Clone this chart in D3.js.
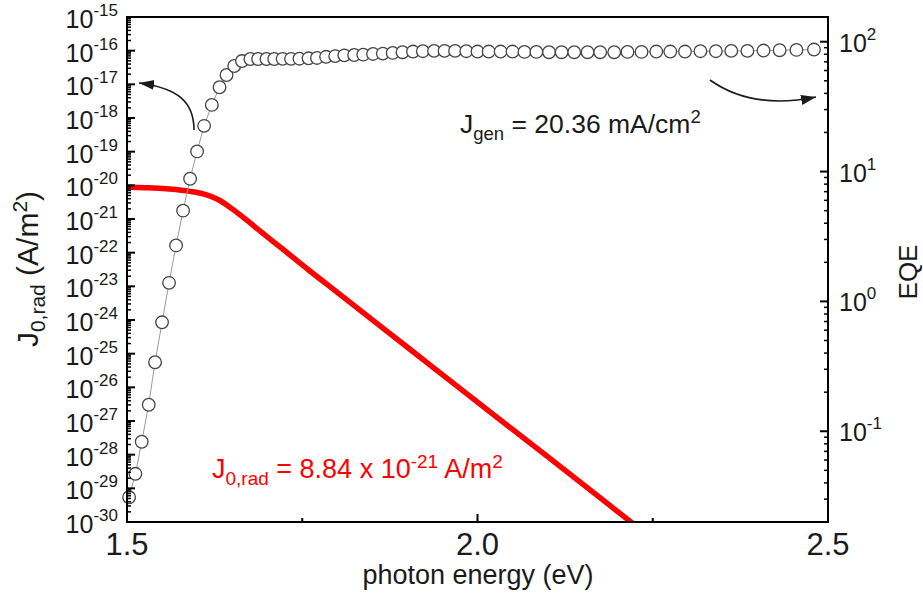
<!DOCTYPE html>
<html>
<head>
<meta charset="utf-8">
<script src="https://cdn.jsdelivr.net/npm/d3@7"></script>
<style>
body { margin: 0; background: #fff; }
text { font-family: "Liberation Sans", Arial, sans-serif; fill: #1a1a1a; }
</style>
</head>
<body>
<svg id="chart" width="923" height="596"></svg>
<script>
// EQE (%) vs photon energy (eV), one point every 5 nm
var eqeEnergy = [1.503, 1.512, 1.521, 1.531, 1.540, 1.550, 1.560, 1.570, 1.580, 1.590,
  1.600, 1.610, 1.621, 1.632, 1.642, 1.653, 1.664, 1.676, 1.687, 1.699,
  1.710, 1.722, 1.734, 1.746, 1.759, 1.771, 1.784, 1.797, 1.810, 1.824,
  1.837, 1.851, 1.865, 1.879, 1.893, 1.908, 1.922, 1.938, 1.953, 1.968,
  1.984, 2.000, 2.016, 2.033, 2.050, 2.067, 2.084, 2.102, 2.120, 2.138,
  2.157, 2.175, 2.195, 2.214, 2.234, 2.255, 2.275, 2.296, 2.318, 2.340,
  2.362, 2.385, 2.408, 2.431, 2.455, 2.480];
var eqeValue = [0.031, 0.047, 0.083, 0.16, 0.34, 0.69, 1.39, 2.7, 5.0, 8.8,
  14.3, 22.5, 32.6, 44.6, 55.4, 65, 71, 73.6, 73.6, 73.6,
  73.6, 73.8, 73.8, 74, 74.5, 75, 76.5, 77.5, 78.5, 79,
  79.5, 80.5, 81, 82, 83, 84, 84.5, 85, 85, 85,
  84.5, 84, 84, 84, 84, 83.5, 83.5, 83, 83, 83,
  83, 83, 83, 83.5, 83.5, 84, 84, 84, 84.5, 84.5,
  85, 85, 85.5, 86, 86.5, 87];

// J0,rad (A/m2) vs photon energy (eV)
var j0Energy = [1.50, 1.53, 1.56, 1.59, 1.61, 1.63, 1.65, 1.67, 1.69, 1.72,
  1.76, 1.80, 1.90, 2.00, 2.10, 2.20, 2.23];
var j0Value = [8.84e-21, 8.51e-21, 7.76e-21, 6.61e-21, 5.50e-21, 3.80e-21, 2.00e-21, 9.55e-22, 4.37e-22, 1.38e-22,
  2.95e-23, 6.61e-24, 1.55e-25, 3.63e-27, 8.71e-29, 2.04e-30, 6.61e-31];

var xMajor = [1.5, 2.0, 2.5];
var xMinor = [1.75, 2.25];
var leftExp = [-15, -16, -17, -18, -19, -20, -21, -22, -23, -24, -25, -26, -27, -28, -29, -30];
var rightExp = [2, 1, 0, -1];

var svg = d3.select("#chart");
var plot = {left: 127, right: 828, top: 17, bottom: 522};

var x = d3.scaleLinear().domain([1.5, 2.5]).range([plot.left, plot.right]);
var yL = d3.scaleLog().domain([1e-30, 1e-15]).range([plot.bottom, plot.top]);
var yR = d3.scaleLog().domain([0.02, 155]).range([plot.bottom, plot.top]);

svg.append("defs").append("clipPath").attr("id", "clip")
  .append("rect")
  .attr("x", plot.left).attr("y", plot.top)
  .attr("width", plot.right - plot.left).attr("height", plot.bottom - plot.top);

svg.select("defs").append("marker")
  .attr("id", "head")
  .attr("markerUnits", "userSpaceOnUse")
  .attr("markerWidth", 16).attr("markerHeight", 12)
  .attr("refX", 15).attr("refY", 5)
  .attr("orient", "auto")
  .append("path")
  .attr("d", "M0,0 L15,5 L0,10 Z")
  .attr("fill", "#1a1a1a");

// red J0 curve
var j0 = j0Energy.map(function(e, i) { return [e, j0Value[i]]; });
svg.append("path")
  .datum(j0)
  .attr("clip-path", "url(#clip)")
  .attr("fill", "none")
  .attr("stroke", "#ff0000")
  .attr("stroke-width", 5.5)
  .attr("d", d3.line()
    .x(function(d) { return x(d[0]); })
    .y(function(d) { return yL(d[1]); })
    .curve(d3.curveMonotoneX));

// EQE line + circles
var eqe = eqeEnergy.map(function(e, i) { return [e, eqeValue[i]]; });
svg.append("path")
  .datum(eqe)
  .attr("fill", "none")
  .attr("stroke", "#9a9a9a")
  .attr("stroke-width", 1)
  .attr("d", d3.line()
    .x(function(d) { return x(d[0]); })
    .y(function(d) { return yR(d[1]); }));

svg.append("g").selectAll("circle")
  .data(eqe)
  .enter().append("circle")
  .attr("cx", function(d) { return x(d[0]); })
  .attr("cy", function(d) { return yR(d[1]); })
  .attr("r", 6.3)
  .attr("fill", "#fff")
  .attr("stroke", "#444")
  .attr("stroke-width", 1.3);

// frame
svg.append("rect")
  .attr("x", plot.left).attr("y", plot.top)
  .attr("width", plot.right - plot.left).attr("height", plot.bottom - plot.top)
  .attr("fill", "none")
  .attr("stroke", "#000")
  .attr("stroke-width", 2);

var ticks = svg.append("g").attr("stroke", "#000").attr("stroke-width", 2);

// left axis ticks (inward)
leftExp.forEach(function(k) {
  var y0 = yL(Math.pow(10, k));
  ticks.append("line").attr("x1", plot.left).attr("x2", plot.left + 8).attr("y1", y0).attr("y2", y0);
  if (k > -30) {
    d3.range(2, 10).forEach(function(m) {
      var yy = yL(m * Math.pow(10, k - 1));
      ticks.append("line").attr("x1", plot.left).attr("x2", plot.left + 4)
        .attr("y1", yy).attr("y2", yy).attr("stroke-width", 1.5);
    });
  }
});

// right axis ticks (inward)
[-2, -1, 0, 1, 2].forEach(function(k) {
  d3.range(1, 10).forEach(function(m) {
    var v = m * Math.pow(10, k);
    if (v < 0.02 || v > 155) return;
    var yy = yR(v);
    ticks.append("line")
      .attr("x1", plot.right).attr("x2", plot.right - (m === 1 ? 8 : 4))
      .attr("y1", yy).attr("y2", yy)
      .attr("stroke-width", m === 1 ? 2 : 1.5);
  });
});

// bottom ticks (inward)
xMajor.concat(xMinor).forEach(function(v) {
  var len = xMajor.indexOf(v) >= 0 ? 8 : 4;
  ticks.append("line").attr("x1", x(v)).attr("x2", x(v))
    .attr("y1", plot.bottom).attr("y2", plot.bottom - len);
});

// tick labels
var lbl = svg.append("g");
leftExp.forEach(function(k) {
  var t = lbl.append("text")
    .attr("x", 118).attr("y", yL(Math.pow(10, k)) + 11)
    .attr("text-anchor", "end")
    .style("font-size", "25px");
  t.append("tspan").text("10");
  t.append("tspan").attr("dy", -12).style("font-size", "17px").text(k);
});

rightExp.forEach(function(k) {
  var t = lbl.append("text")
    .attr("x", 839).attr("y", yR(Math.pow(10, k)) + 10)
    .style("font-size", "25px");
  t.append("tspan").text("10");
  t.append("tspan").attr("dy", -12).style("font-size", "17px").text(k);
});

xMajor.forEach(function(v) {
  lbl.append("text")
    .attr("x", x(v)).attr("y", 555)
    .attr("text-anchor", "middle")
    .style("font-size", "31px")
    .text(d3.format(".1f")(v));
});

// axis titles
lbl.append("text")
  .attr("x", 478).attr("y", 584)
  .attr("text-anchor", "middle")
  .style("font-size", "27px")
  .text("photon energy (eV)");

var yt = lbl.append("text")
  .attr("transform", "translate(38,269) rotate(-90)")
  .attr("text-anchor", "middle")
  .style("font-size", "30px");
yt.append("tspan").text("J");
yt.append("tspan").attr("dy", 7).style("font-size", "21px").text("0,rad");
yt.append("tspan").attr("dy", -7).text(" (A/m");
yt.append("tspan").attr("dy", -11).style("font-size", "21px").text("2");
yt.append("tspan").attr("dy", 11).text(")");

lbl.append("text")
  .attr("transform", "translate(917,272) rotate(-90)")
  .attr("text-anchor", "middle")
  .style("font-size", "26px")
  .text("EQE");

// annotations
var jg = lbl.append("text").attr("x", 460).attr("y", 133).style("font-size", "26.5px");
jg.append("tspan").text("J");
jg.append("tspan").attr("dy", 7).style("font-size", "18.5px").text("gen");
jg.append("tspan").attr("dy", -7).text(" = 20.36 mA/cm");
jg.append("tspan").attr("dy", -10).style("font-size", "18.5px").text("2");

var jr = lbl.append("text").attr("x", 212).attr("y", 478).style("font-size", "27px");
jr.append("tspan").style("fill", "#ff0000").text("J");
jr.append("tspan").attr("dy", 7).style("font-size", "19px").style("fill", "#ff0000").text("0,rad");
jr.append("tspan").attr("dy", -7).style("fill", "#ff0000").text(" = 8.84 x 10");
jr.append("tspan").attr("dy", -10).style("font-size", "19px").style("fill", "#ff0000").text("-21");
jr.append("tspan").attr("dy", 10).style("fill", "#ff0000").text(" A/m");
jr.append("tspan").attr("dy", -10).style("font-size", "19px").style("fill", "#ff0000").text("2");

// arrows
svg.append("path")
  .attr("d", "M194,130 C194,102 178,88 139,83")
  .attr("fill", "none").attr("stroke", "#1a1a1a").attr("stroke-width", 1.6)
  .attr("marker-end", "url(#head)");
svg.append("path")
  .attr("d", "M710,80 Q752,110 816,97")
  .attr("fill", "none").attr("stroke", "#1a1a1a").attr("stroke-width", 1.6)
  .attr("marker-end", "url(#head)");
</script>
</body>
</html>
